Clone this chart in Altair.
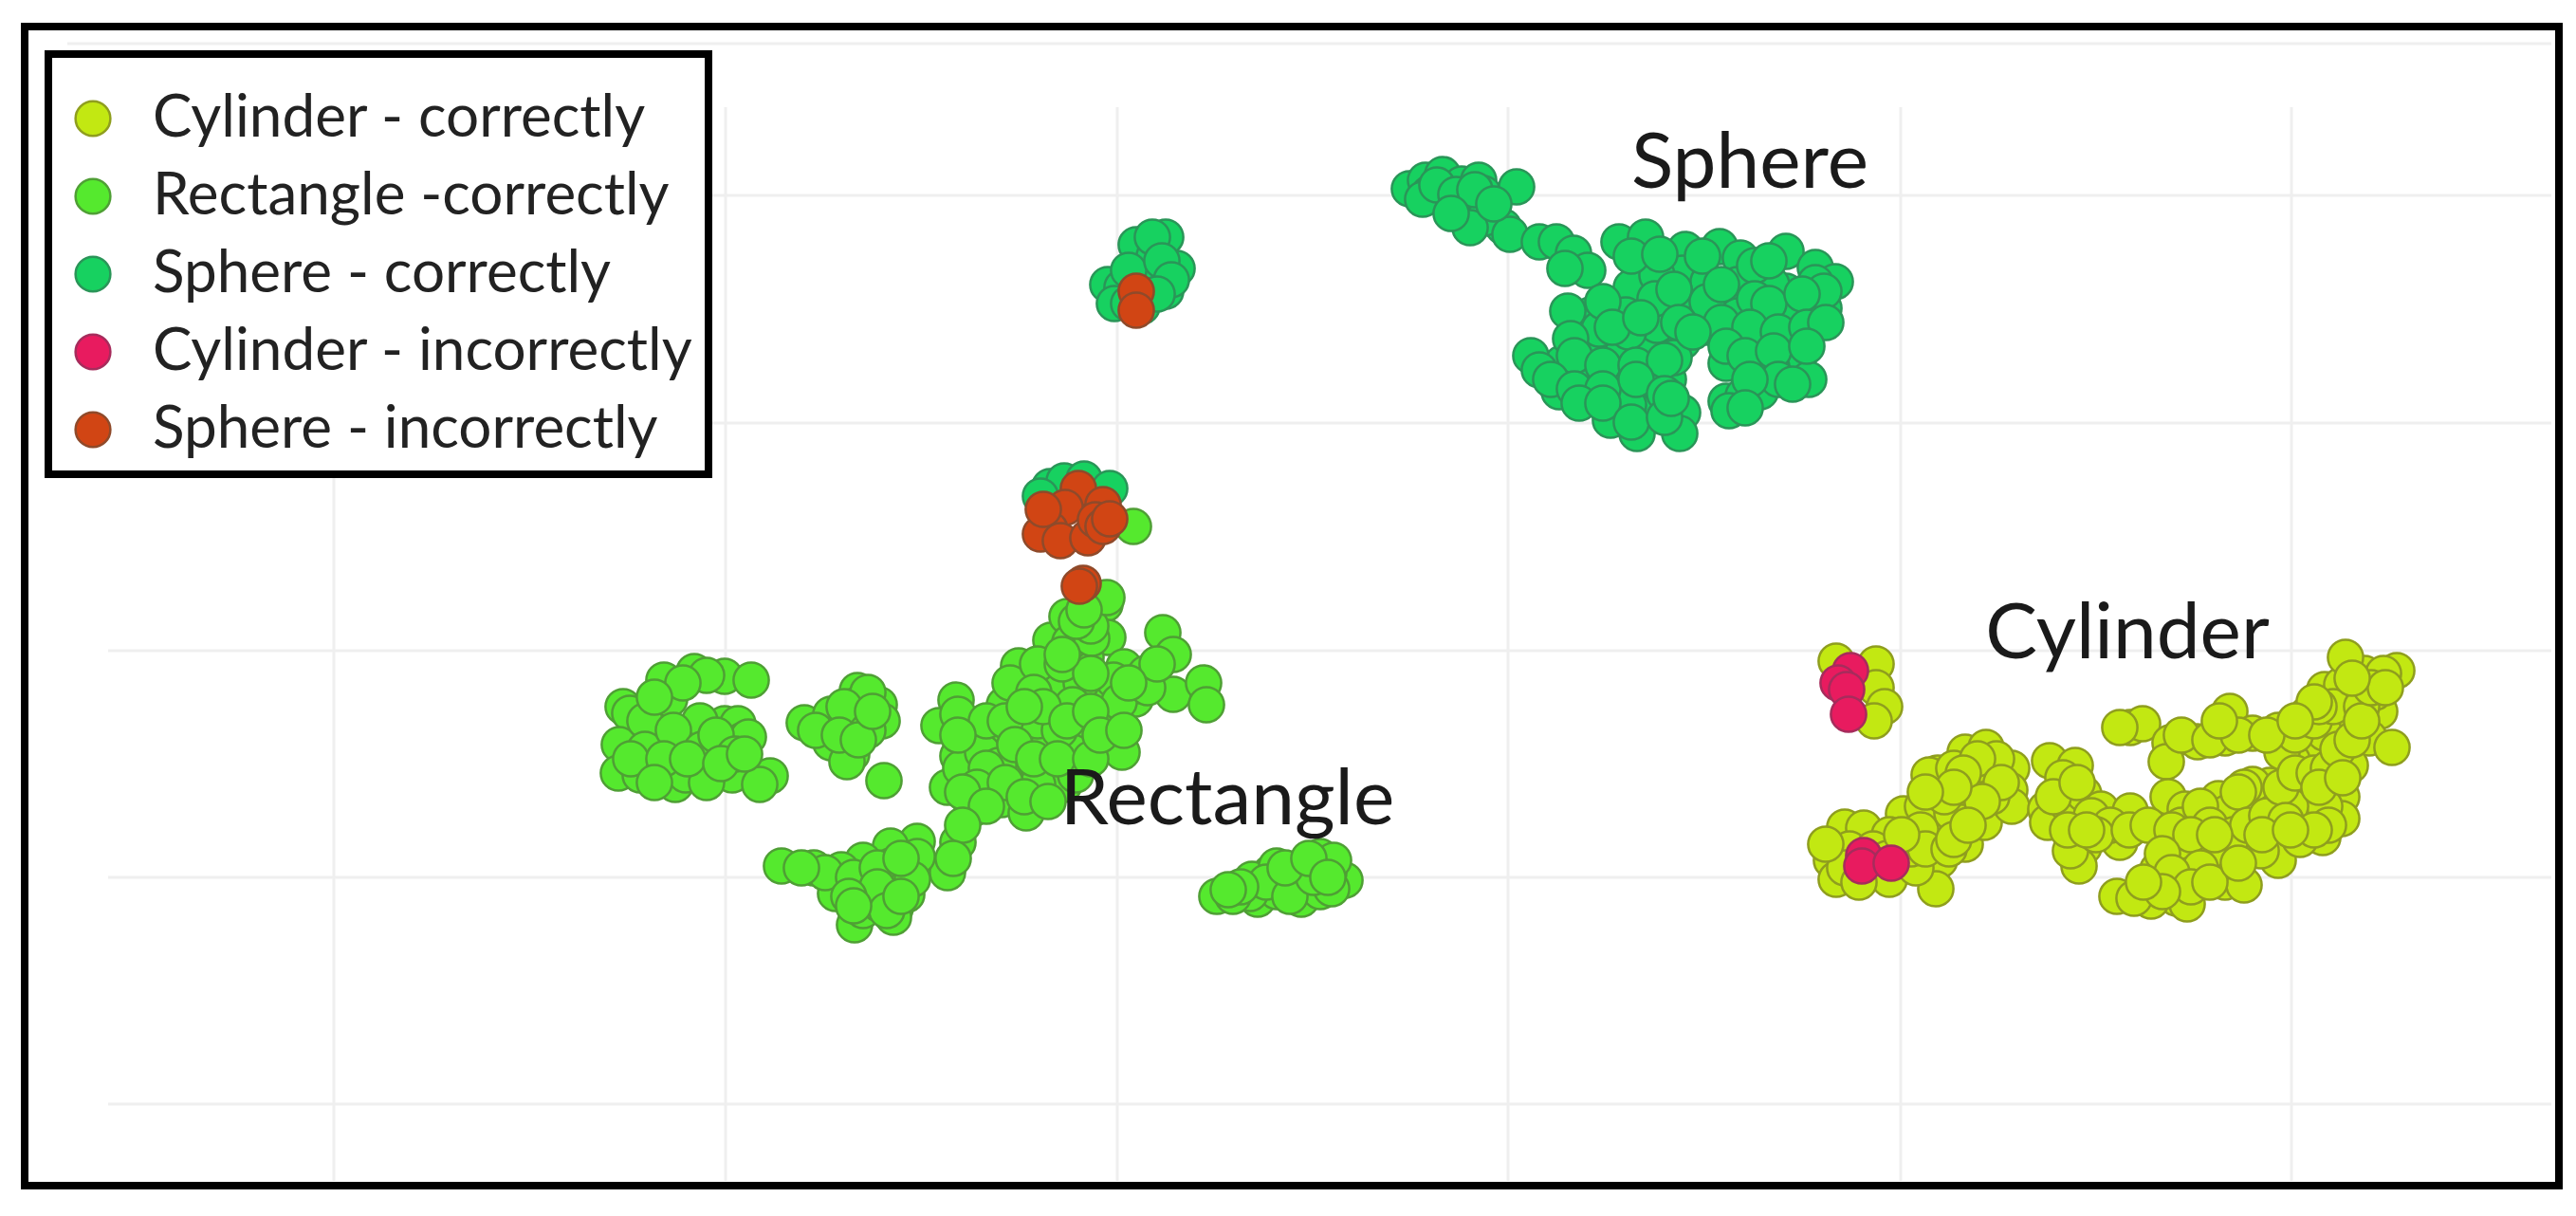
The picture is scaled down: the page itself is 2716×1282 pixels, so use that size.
import altair as alt
import pandas as pd

# t-SNE style scatter without numeric axes: values are read from the picture
series_names = ["Cylinder - correctly", "Rectangle -correctly", "Sphere - correctly",
                "Cylinder - incorrectly", "Sphere - incorrectly"]
series_colors = ["#c2e812", "#55e92e", "#17d160", "#e81b5f", "#d14514"]
series_edges = ["#8f9e1e", "#4f9f35", "#2a9558", "#a62c5c", "#8f4a2a"]

cylinder_ok = [
    (1936,697),(1978,700),(1978,725),(1987,745),(1976,760),
    (1945,872),(1931,907),(1936,927),(1965,873),(1992,927),(2007,858),(1992,880),(2047,873),(2045,907),(2041,937),
    (2072,890),(2043,815),(2072,793),(2094,788),(2094,817),(2121,810),(2119,833),(2092,867),(2076,840),(2027,850),
    (2034,817),(2058,857),(2121,850),(2161,802),(2188,807),(2157,853),(2159,867),(2179,847),(2197,837),(2215,853),
    (2246,855),(2235,888),(2197,893),(2192,913),(2183,897),(2246,767),(2259,763),(2235,767),(2288,783),(2284,803),
    (2317,782),(2346,778),(2351,750),(2375,773),(2402,770),(2433,753),(2473,757),(2509,750),(2451,727),(2469,722),
    (2493,710),(2473,693),(2527,707),(2513,710),(2498,778),(2522,788),(2478,807),(2446,797),(2433,797),(2417,802),
    (2433,832),(2393,828),(2375,827),(2339,842),(2433,862),(2469,840),(2469,863),(2449,883),(2400,880),(2402,907),
    (2384,897),(2348,870),(2326,900),(2344,910),(2346,930),(2366,933),(2286,863),(2286,840),(2304,853),(2293,893),
    (2275,917),(2295,947),(2306,953),(2268,950),(2232,945),(2250,947),(2308,923),(2451,850),(2415,850),(2451,773),
    (2482,733),(2504,730),(2406,793),(2366,830),(2348,857),
    (1950,895),(1945,915),(1960,930),(1925,890),(1975,895),(1990,905),(2010,885),(2025,875),(2020,915),(2015,895),
    (2030,895),(2055,895),(2060,885),(2050,840),(2070,830),(2100,840),(2105,800),(2060,810),(2085,800),(2070,815),
    (2110,825),(2090,845),(2060,830),(2030,835),(2075,870),(2005,880),
    (2175,820),(2165,840),(2190,825),(2205,860),(2225,870),(2210,880),(2245,875),(2180,875),(2200,875),
    (2265,870),(2300,870),(2320,850),(2330,870),(2360,835),(2355,880),(2370,870),(2390,860),(2405,830),(2420,815),
    (2440,815),(2455,810),(2465,790),(2480,780),(2445,830),(2470,820),(2455,870),(2410,865),(2425,885),(2440,875),
    (2420,775),(2440,760),(2460,745),(2490,745),(2445,745),(2490,760),(2500,725),(2515,725),(2480,715),(2440,740),
    (2290,875),(2310,880),(2320,915),(2280,900),(2290,920),(2310,935),(2280,940),(2260,930),(2335,880),(2330,930),
    (2360,910),(2385,880),(2415,875),(2300,775),(2330,780),(2360,775),(2390,775),(2420,760),(2340,760),
]
rectangle_ok = [
    (732,708),(764,713),(792,717),(700,717),(657,745),(664,752),(695,745),(706,737),(653,785),(652,815),(695,788),
    (692,810),(712,827),(675,817),(738,778),(741,805),(764,763),(778,763),(784,780),(772,817),(812,818),(801,827),
    (738,760),(721,790),(766,793),(789,777),(723,817),
    (680,760),(680,790),(665,800),(710,770),(700,800),(740,790),(755,775),(775,795),(690,825),(745,825),(725,800),
    (760,805),(785,795),(745,712),(720,720),(690,735),
    (904,728),(904,743),(927,743),(930,760),(848,762),(876,753),(898,767),(876,783),(898,795),(893,803),(932,823),(908,753),
    (915,730),(890,745),(915,770),(860,770),(885,775),(905,780),(920,750),
    (1008,738),(990,765),(1010,753),(1032,777),(1010,797),(999,830),(1025,853),(1056,843),(1082,857),(1076,817),
    (1048,817),(1013,810),(1099,817),(1122,827),(1059,743),(1074,702),(1065,720),(1108,675),(1125,650),(1145,643),
    (1165,637),(1168,672),(1145,693),(1111,722),(1108,753),(1140,768),(1168,783),(1183,793),(1165,737),(1197,737),
    (1185,703),(1208,710),(1237,732),(1226,667),(1237,690),(1269,720),(1272,743),(1140,720),(1082,767),(1059,780),
    (1105,787),(1131,793),(1076,797),(1094,760),(1131,743),(1168,760),(1036,793),(1174,717),(1094,700),(1128,677),
    (1151,673),(1197,723),(1053,807),(1094,827),(1134,817),(1117,770),
    (1090,730),(1120,700),(1150,710),(1180,740),(1100,745),(1125,760),(1150,750),(1040,760),(1060,760),(1080,745),
    (1040,810),(1070,785),(1090,800),(1115,800),(1150,800),(1160,775),(1185,770),(1030,830),(1060,825),(1080,840),
    (1105,845),(1010,775),(1150,660),(1135,655),(1120,690),(1210,725),(1220,700),(1190,720),(1015,835),(1040,850),
    (1010,888),(999,920),(967,887),(967,903),(939,892),(939,913),(910,907),(858,915),(824,913),(881,942),(901,975),
    (944,957),(942,967),(956,943),(962,927),(916,940),(910,960),(887,917),(927,953),
    (870,920),(900,925),(925,915),(950,905),(925,935),(895,945),(935,960),(900,955),(950,945),(845,915),(1015,870),(1005,905),
    (1283,945),(1326,948),(1372,948),(1418,928),(1401,920),(1392,903),(1406,907),(1363,927),(1340,920),(1320,927),
    (1346,940),(1392,940),(1369,917),(1318,942),(1346,913),(1404,937),
    (1300,945),(1335,930),(1360,945),(1385,925),(1355,915),(1380,905),(1400,925),(1308,935),(1295,938),
    (1195,555),(1167,630),(1143,643),
]
sphere_ok = [
    (1107,513),(1122,507),(1143,505),(1170,515),(1097,523),
    (1229,250),(1198,258),(1217,270),(1241,283),(1168,300),(1183,303),(1229,307),(1208,293),(1204,323),
    (1190,285),(1215,250),(1225,275),(1235,295),(1175,320),(1190,320),(1220,310),
    (1486,199),(1503,190),(1521,184),(1541,194),(1559,190),(1564,204),(1599,197),(1524,211),(1541,222),(1567,225),
    (1585,239),(1507,204),(1550,211),(1544,215),(1565,230),(1550,240),(1592,247),(1623,255),(1641,255),(1659,267),
    (1674,285),(1650,283),(1500,210),(1515,195),(1535,205),(1555,200),(1530,225),(1575,215),
    (1707,255),(1735,250),(1777,263),(1813,260),(1835,272),(1883,265),(1914,282),(1935,297),(1914,298),(1883,307),
    (1832,300),(1774,288),(1720,303),(1747,290),(1759,325),(1789,320),(1829,323),(1892,332),(1923,325),(1677,332),
    (1653,328),(1714,332),(1898,357),(1853,358),(1801,345),(1774,360),(1744,357),(1680,363),(1711,372),(1738,373),
    (1647,383),(1614,375),(1623,390),(1820,383),(1892,383),(1907,400),(1868,387),(1850,390),(1820,423),(1838,417),
    (1856,413),(1823,433),(1671,412),(1644,413),(1711,405),(1741,407),(1759,400),(1698,443),(1735,437),(1774,435),
    (1726,457),(1771,457),(1820,357),(1868,300),(1801,297),(1686,347),(1656,357),(1747,343),(1717,350),(1923,307),
    (1862,340),(1832,333),(1692,390),(1765,377),(1662,397),(1747,433),(1717,427),
    (1720,270),(1750,268),(1795,270),(1850,280),(1865,275),(1745,315),(1765,305),(1800,318),(1815,300),(1850,315),
    (1865,320),(1900,310),(1690,318),(1700,345),(1730,335),(1770,340),(1815,340),(1845,345),(1875,350),(1905,345),
    (1925,340),(1660,375),(1690,385),(1725,385),(1755,380),(1785,350),(1820,365),(1840,375),(1870,370),(1905,365),
    (1635,400),(1660,410),(1690,410),(1725,400),(1755,415),(1875,400),(1845,400),(1890,405),(1665,425),(1690,425),
    (1720,445),(1755,440),(1762,420),(1840,430),
]
cylinder_bad = [(1951,707),(1938,720),(1947,727),(1949,753),(1965,902),(1963,913),(1994,910)]
sphere_bad = [
    (1198,307),(1198,327),
    (1137,515),(1123,535),(1163,532),(1107,558),(1097,563),(1118,570),(1147,567),(1155,548),(1163,555),(1100,537),(1170,547),
    (1142,615),(1138,618),
]
all_series = [cylinder_ok, rectangle_ok, sphere_ok, cylinder_bad, sphere_bad]

grid_x = [352, 765, 1178, 1590, 2004, 2416]
grid_y = [206, 446, 686, 925, 1164]
grid_y_top = [46]

label_texts = ["Sphere", "Cylinder", "Rectangle"]
label_x = [1845, 2243, 1294]
label_y = [173, 669, 844]

x_scale = alt.Scale(domain=[26, 2698], nice=False, zero=False)
y_scale = alt.Scale(domain=[1250, 28], nice=False, zero=False)

points = pd.DataFrame(
    [{"x": x, "y": y, "series": name} for name, pts in zip(series_names, all_series) for x, y in pts]
)
GRID = "#efefef"

v_grid = alt.Chart(pd.DataFrame({"x": grid_x, "y": [113] * len(grid_x), "y2": [1245] * len(grid_x)})).mark_rule(
    color=GRID, strokeWidth=3
).encode(x=alt.X("x:Q", scale=x_scale, axis=None), y=alt.Y("y:Q", scale=y_scale, axis=None), y2="y2:Q")

h_grid = alt.Chart(pd.DataFrame({
    "y": grid_y + grid_y_top,
    "x": [114] * len(grid_y) + [71] * len(grid_y_top),
    "x2": [2690] * (len(grid_y) + len(grid_y_top)),
})).mark_rule(color=GRID, strokeWidth=3).encode(
    y=alt.Y("y:Q", scale=y_scale, axis=None), x=alt.X("x:Q", scale=x_scale, axis=None), x2="x2:Q"
)

legend_def = alt.Legend(
    title=" ", orient="none", legendX=25, legendY=29, direction="vertical",
    titleFontSize=21, titlePadding=0, rowPadding=20,
    symbolType="circle", symbolSize=1350, symbolStrokeWidth=2.5,
    labelFont="Lato", labelFontSize=62, labelColor="#222222", labelOffset=32, labelLimit=800,
    padding=16, fillColor="white", strokeColor="black",
)

dots = alt.Chart(points).mark_point(filled=True, size=1385, opacity=1, strokeWidth=2.5).encode(
    x=alt.X("x:Q", scale=x_scale, axis=None),
    y=alt.Y("y:Q", scale=y_scale, axis=None),
    fill=alt.Fill("series:N", scale=alt.Scale(domain=series_names, range=series_colors), legend=legend_def),
    stroke=alt.Stroke("series:N", scale=alt.Scale(domain=series_names, range=series_edges), legend=legend_def),
)

labels = alt.Chart(pd.DataFrame({"x": label_x, "y": label_y, "t": label_texts})).mark_text(
    font="Lato", fontSize=82, color="#1a1a1a", align="center", baseline="middle"
).encode(x=alt.X("x:Q", scale=x_scale, axis=None), y=alt.Y("y:Q", scale=y_scale, axis=None), text="t:N")

chart = (
    alt.layer(v_grid, h_grid, dots, labels)
    .properties(
        width=2672, height=1222, background="white",
        padding={"left": 18, "top": 20, "right": 10, "bottom": 10},
        autosize=alt.AutoSizeParams(type="none"),
    )
    .configure_view(stroke="black", strokeWidth=8)
    .configure_legend(strokeWidth=8)
)
chart.save("out.html", embed_options={"renderer": "svg", "actions": False})
